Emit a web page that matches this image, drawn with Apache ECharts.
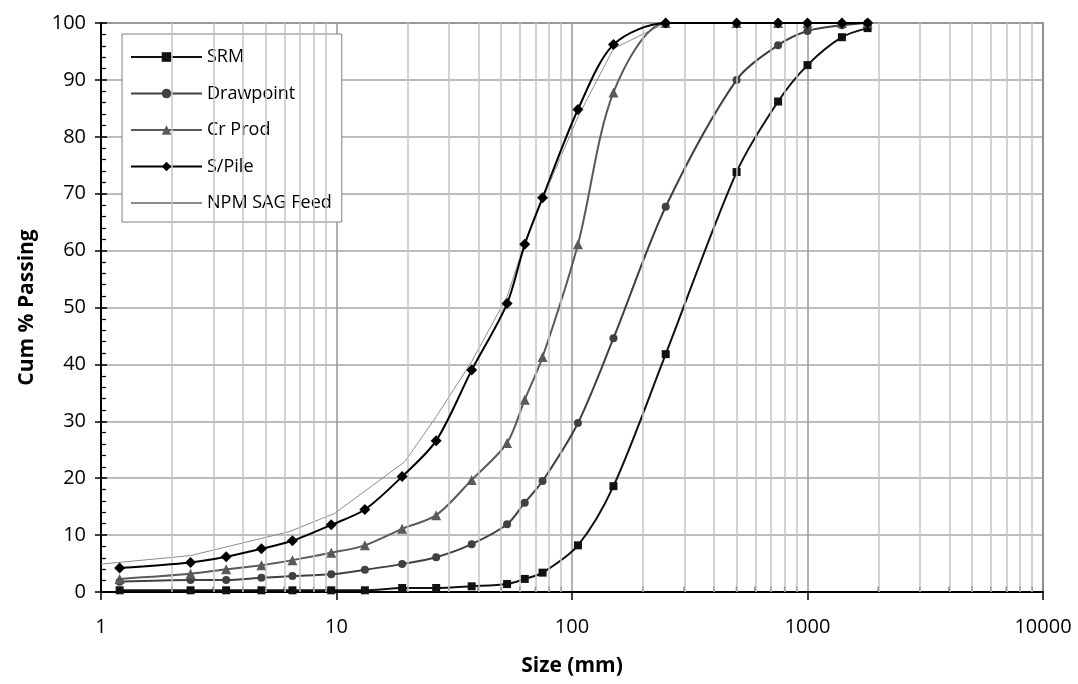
<!DOCTYPE html>
<html>
<head>
<meta charset="utf-8">
<script src="https://cdn.jsdelivr.net/npm/echarts@6/dist/echarts.min.js"></script>
<style>
  html, body { margin: 0; padding: 0; background: #fff; }
  #chart { width: 1078px; height: 684px; }
</style>
</head>
<body>
<div id="chart"></div>
<script>
// sieve sizes (mm)
var sizes = [1.2, 2.4, 3.4, 4.8, 6.5, 9.5, 13.2, 19, 26.5, 37.5, 53, 63, 75, 106, 150, 250, 500, 750, 1000, 1400, 1800];

var srm       = [0.3, 0.3, 0.3, 0.3, 0.3, 0.3, 0.3, 0.7, 0.7, 1.0, 1.4, 2.3, 3.4, 8.2, 18.6, 41.8, 73.8, 86.2, 92.6, 97.5, 99.1];
var drawpoint = [1.8, 2.1, 2.1, 2.5, 2.8, 3.1, 3.9, 4.9, 6.1, 8.4, 11.9, 15.7, 19.5, 29.7, 44.6, 67.7, 90.0, 96.1, 98.6, 99.6, 100];
var crProd    = [2.3, 3.2, 4.0, 4.7, 5.6, 6.9, 8.2, 11.1, 13.5, 19.7, 26.2, 33.8, 41.3, 61.1, 87.8, 100, 100, 100, 100, 100, 100];
var sPile     = [4.2, 5.2, 6.2, 7.6, 9.0, 11.8, 14.5, 20.3, 26.6, 39.0, 50.7, 61.1, 69.3, 84.8, 96.2, 100, 100, 100, 100, 100, 100];

// NPM SAG Feed has its own points
var npmSizes = [1.0, 2.4, 6.3, 9.8, 19.5, 26.5, 37.5, 53, 63, 75, 106, 150, 250, 500];
var npmFeed  = [4.9, 6.4, 10.6, 13.8, 22.9, 30.8, 40.5, 51.9, 61.3, 69.0, 83.5, 95.5, 100, 100];

// minor grid positions on the log axis
var minorTicks = [2, 3, 4, 5, 6, 7, 8, 9,
                  20, 30, 40, 50, 60, 70, 80, 90,
                  200, 300, 400, 500, 600, 700, 800, 900,
                  2000, 3000, 4000, 5000, 6000, 7000, 8000, 9000];

var FONT = '"Open Sans", sans-serif';

function pairs(xs, ys) {
    var out = [];
    for (var i = 0; i < xs.length; i++) out.push([xs[i], ys[i]]);
    return out;
}

var chart = echarts.init(document.getElementById('chart'));

var option = {
    animation: false,
    backgroundColor: '#fff',
    textStyle: { fontFamily: FONT },
    grid: {
        left: 101, right: 35, top: 23, bottom: 92,
        show: true, borderColor: '#404040', borderWidth: 1.5
    },
    legend: {
        orient: 'vertical',
        left: 122, top: 34,
        data: ['SRM', 'Drawpoint', 'Cr Prod', 'S/Pile',
               { name: 'NPM SAG Feed', itemStyle: { opacity: 0 } }],
        itemWidth: 71, itemHeight: 12, itemGap: 18.5,
        padding: [14, 10, 10, 8],
        backgroundColor: '#fff',
        borderColor: '#808080', borderWidth: 1,
        textStyle: { fontSize: 18, color: '#000', fontFamily: FONT }
    },
    xAxis: {
        type: 'log', logBase: 10, min: 1, max: 10000,
        name: 'Size (mm)', nameLocation: 'middle', nameGap: 64,
        nameTextStyle: { fontSize: 21, fontWeight: 'bold', color: '#000', fontFamily: FONT },
        axisLine: { lineStyle: { color: '#000', width: 2 } },
        axisTick: { show: true, length: 8, lineStyle: { color: '#000', width: 1.5 } },
        axisLabel: {
            fontSize: 20, color: '#000', margin: 25, fontFamily: FONT,
            formatter: function (v) { return String(v); }
        },
        splitLine: { show: true, lineStyle: { color: '#999', width: 1.5 } }
    },
    yAxis: [{
        type: 'value', min: 0, max: 100, interval: 10,
        name: 'Cum % Passing', nameLocation: 'middle', nameGap: 63,
        nameTextStyle: { fontSize: 21, fontWeight: 'bold', color: '#000', fontFamily: FONT },
        axisLine: { show: true, lineStyle: { color: '#000', width: 2 } },
        axisTick: { show: true, length: 6, lineStyle: { color: '#000', width: 1.5 } },
        axisLabel: { fontSize: 20, color: '#000', margin: 15, fontFamily: FONT },
        splitLine: { show: true, lineStyle: { color: '#a6a6a6', width: 1.5 } }
    }, {
        // inside ticks + minor ticks
        type: 'value', min: 0, max: 100, interval: 10, position: 'left',
        axisLine: { show: false },
        axisTick: { show: true, inside: true, length: 6, lineStyle: { color: '#000', width: 1.5 } },
        minorTick: { show: true, splitNumber: 5, length: 5, lineStyle: { color: '#000', width: 1.2 } },
        axisLabel: { show: false },
        splitLine: { show: false }
    }],
    series: [
        {
            // minor grid lines + inward minor ticks on the x axis
            name: 'minor',
            type: 'scatter',
            silent: true,
            z: 1,
            symbol: 'rect',
            symbolSize: [1.5, 5],
            symbolOffset: [0, -3],
            itemStyle: { color: '#000' },
            data: minorTicks.map(function (v) { return [v, 0]; }),
            markLine: {
                silent: true,
                symbol: 'none',
                label: { show: false },
                lineStyle: { color: '#c4c4c4', width: 1.5, type: 'solid' },
                data: minorTicks.map(function (v) { return { xAxis: v }; })
            }
        },
        {
            name: 'NPM SAG Feed',
            type: 'line',
            data: pairs(npmSizes, npmFeed),
            symbol: 'none',
            smooth: false,
            z: 3,
            lineStyle: { color: '#8c8c8c', width: 1 },
            itemStyle: { color: '#8c8c8c' }
        },
        {
            name: 'SRM',
            type: 'line',
            data: pairs(sizes, srm),
            symbol: 'rect', symbolSize: 8,
            smooth: 0.3,
            z: 4,
            lineStyle: { color: '#111', width: 2 },
            itemStyle: { color: '#111' }
        },
        {
            name: 'Drawpoint',
            type: 'line',
            data: pairs(sizes, drawpoint),
            symbol: 'circle', symbolSize: 8,
            smooth: 0.3,
            z: 4,
            lineStyle: { color: '#404040', width: 2 },
            itemStyle: { color: '#404040' }
        },
        {
            name: 'Cr Prod',
            type: 'line',
            data: pairs(sizes, crProd),
            symbol: 'triangle', symbolSize: 10,
            smooth: 0.3,
            z: 4,
            lineStyle: { color: '#5a5a5a', width: 2 },
            itemStyle: { color: '#5a5a5a' }
        },
        {
            name: 'S/Pile',
            type: 'line',
            data: pairs(sizes, sPile),
            symbol: 'diamond', symbolSize: 11,
            smooth: 0.3,
            z: 5,
            lineStyle: { color: '#000', width: 2 },
            itemStyle: { color: '#000' }
        }
    ]
};

chart.setOption(option);
</script>
</body>
</html>
